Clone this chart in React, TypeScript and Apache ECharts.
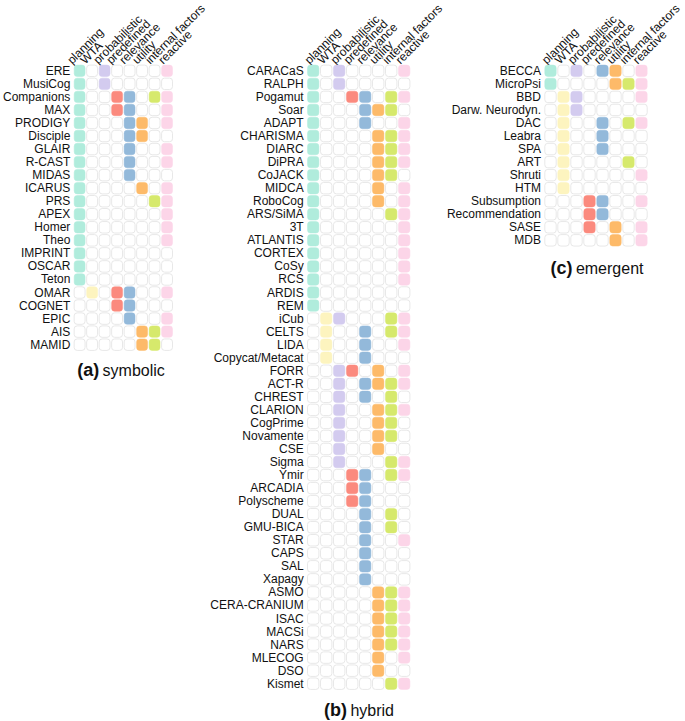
import React, { useEffect, useRef } from "react";
import * as echarts from "echarts";

const columns = ["planning", "WTA", "probabilistic", "predefined", "relevance", "utility", "internal factors", "reactive"];
const columnColors = ["#b0ecdc", "#fdf4bf", "#d3cbef", "#fb8a7e", "#93b9da", "#fdba69", "#d6e96c", "#fcd5e8"];

const symbolicRows = ["ERE", "MusiCog", "Companions", "MAX", "PRODIGY", "Disciple", "GLAIR", "R-CAST", "MIDAS", "ICARUS", "PRS", "APEX", "Homer", "Theo", "IMPRINT", "OSCAR", "Teton", "OMAR", "COGNET", "EPIC", "AIS", "MAMID"];
const symbolicMarks = ["10100001", "10100000", "10011011", "10011001", "10001101", "10001100", "10001001", "10001001", "10001000", "10000101", "10000011", "10000001", "10000001", "10000001", "10000000", "10000000", "10000000", "01011001", "00011000", "00001001", "00000111", "00000110"];

const hybridRows = ["CARACaS", "RALPH", "Pogamut", "Soar", "ADAPT", "CHARISMA", "DIARC", "DiPRA", "CoJACK", "MIDCA", "RoboCog", "ARS/SiMA", "3T", "ATLANTIS", "CORTEX", "CoSy", "RCS", "ARDIS", "REM", "iCub", "CELTS", "LIDA", "Copycat/Metacat", "FORR", "ACT-R", "CHREST", "CLARION", "CogPrime", "Novamente", "CSE", "Sigma", "Ymir", "ARCADIA", "Polyscheme", "DUAL", "GMU-BICA", "STAR", "CAPS", "SAL", "Xapagy", "ASMO", "CERA-CRANIUM", "ISAC", "MACSi", "NARS", "MLECOG", "DSO", "Kismet"];
const hybridMarks = ["10100001", "10100000", "10011011", "10001110", "10001001", "10000111", "10000111", "10000111", "10000110", "10000101", "10000101", "10000011", "10000001", "10000001", "10000001", "10000001", "10000001", "10000000", "10000000", "01100011", "01001011", "01001001", "01001000", "00110101", "00101111", "00101010", "00100111", "00100110", "00100110", "00100100", "00100011", "00011011", "00011000", "00011000", "00001010", "00001010", "00001001", "00001000", "00001000", "00001000", "00000111", "00000111", "00000111", "00000111", "00000111", "00000101", "00000100", "00000011"];

const emergentRows = ["BECCA", "MicroPsi", "BBD", "Darw. Neurodyn.", "DAC", "Leabra", "SPA", "ART", "Shruti", "HTM", "Subsumption", "Recommendation", "SASE", "MDB"];
const emergentMarks = ["10101101", "10000111", "01100001", "01100000", "01001011", "01001000", "01001000", "01000010", "01000001", "01000000", "00011001", "00011000", "00010101", "00000101"];

const panelTitles = [
  { tag: "(a)", name: "symbolic" },
  { tag: "(b)", name: "hybrid" },
  { tag: "(c)", name: "emergent" },
];

const FONT = "'Liberation Sans', Arial, Helvetica, sans-serif";
const PITCH_X = 13;
const PITCH_Y = 13.04;
const HEADER_SHIFT = 6.5;

function toCells(marks: string[]) {
  const out: number[][] = [];
  marks.forEach((m, r) => {
    for (let c = 0; c < columns.length; c++) out.push([c, r, m[c] === "1" ? 1 : 0]);
  });
  return out;
}

export default function App() {
  const ref = useRef<HTMLDivElement>(null);
  useEffect(() => {
    if (!ref.current) return;
    const chart = echarts.init(ref.current, null, { renderer: "svg" });
    const panels = [
      { rows: symbolicRows, marks: symbolicMarks, left: 69.3, title: [121, 370] },
      { rows: hybridRows, marks: hybridMarks, left: 306.7, title: [359, 710] },
      { rows: emergentRows, marks: emergentMarks, left: 544, title: [597, 268] },
    ];
    const top = 64.3;
    const renderItem = (params: any, api: any) => {
      const x = api.value(0);
      const y = api.value(1);
      const v = api.value(2);
      const c = api.coord([x, y]);
      const s = api.size([1, 1]);
      const w = s[0] - 1.6;
      const h = s[1] - 1.6;
      return {
        type: "rect",
        shape: { x: c[0] - w / 2, y: c[1] - h / 2, width: w, height: h, r: 3 },
        style: v
          ? { fill: columnColors[x], stroke: columnColors[x], lineWidth: 0.5 }
          : { fill: "#ffffff", stroke: "#e8e8e8", lineWidth: 1 },
      };
    };
    const grids: any[] = [];
    const xAxes: any[] = [];
    const yAxes: any[] = [];
    panels.forEach((p, i) => {
      // cell grid
      grids.push({ left: p.left, top, width: PITCH_X * columns.length, height: PITCH_Y * p.rows.length });
      xAxes.push({
        type: "category",
        gridIndex: 2 * i,
        position: "top",
        data: columns,
        axisLine: { show: false, onZero: false },
        axisTick: { show: false },
        splitLine: { show: false },
        axisLabel: { show: false },
      });
      yAxes.push({
        type: "category",
        gridIndex: 2 * i,
        inverse: true,
        data: p.rows,
        axisLine: { show: false },
        axisTick: { show: false },
        splitLine: { show: false },
        axisLabel: { interval: 0, margin: 3, fontSize: 12, color: "#111", fontFamily: FONT },
      });
      // header label grid (same columns, shifted so rotated labels start at the cell's left edge)
      grids.push({ left: p.left - HEADER_SHIFT, top, width: PITCH_X * columns.length, height: PITCH_Y * p.rows.length });
      xAxes.push({
        type: "category",
        gridIndex: 2 * i + 1,
        position: "top",
        data: columns,
        axisLine: { show: false, onZero: false },
        axisTick: { show: false },
        splitLine: { show: false },
        axisLabel: { interval: 0, rotate: -45, margin: 5, fontSize: 12, color: "#111", fontFamily: FONT },
      });
      yAxes.push({
        type: "category",
        gridIndex: 2 * i + 1,
        inverse: true,
        data: p.rows,
        axisLine: { show: false },
        axisTick: { show: false },
        splitLine: { show: false },
        axisLabel: { show: false },
      });
    });
    chart.setOption({
      animation: false,
      backgroundColor: "#ffffff",
      grid: grids,
      xAxis: xAxes,
      yAxis: yAxes,
      series: panels.map((p, i) => ({
        type: "custom",
        xAxisIndex: 2 * i,
        yAxisIndex: 2 * i,
        renderItem,
        data: toCells(p.marks),
      })),
      graphic: panels.map((p, i) => ({
        type: "text",
        x: p.title[0],
        y: p.title[1],
        style: {
          text: `{b|${panelTitles[i].tag}} {n|${panelTitles[i].name}}`,
          align: "center",
          verticalAlign: "middle",
          rich: {
            b: { fontSize: 18, fontWeight: "bold", fontFamily: FONT, fill: "#111" },
            n: { fontSize: 16, fontFamily: FONT, fill: "#111" },
          },
        },
      })),
    });
    return () => chart.dispose();
  }, []);
  return (
    <div
      ref={ref}
      style={{ position: "fixed", left: 0, top: 0, width: 685, height: 721, background: "#fff" }}
    />
  );
}
